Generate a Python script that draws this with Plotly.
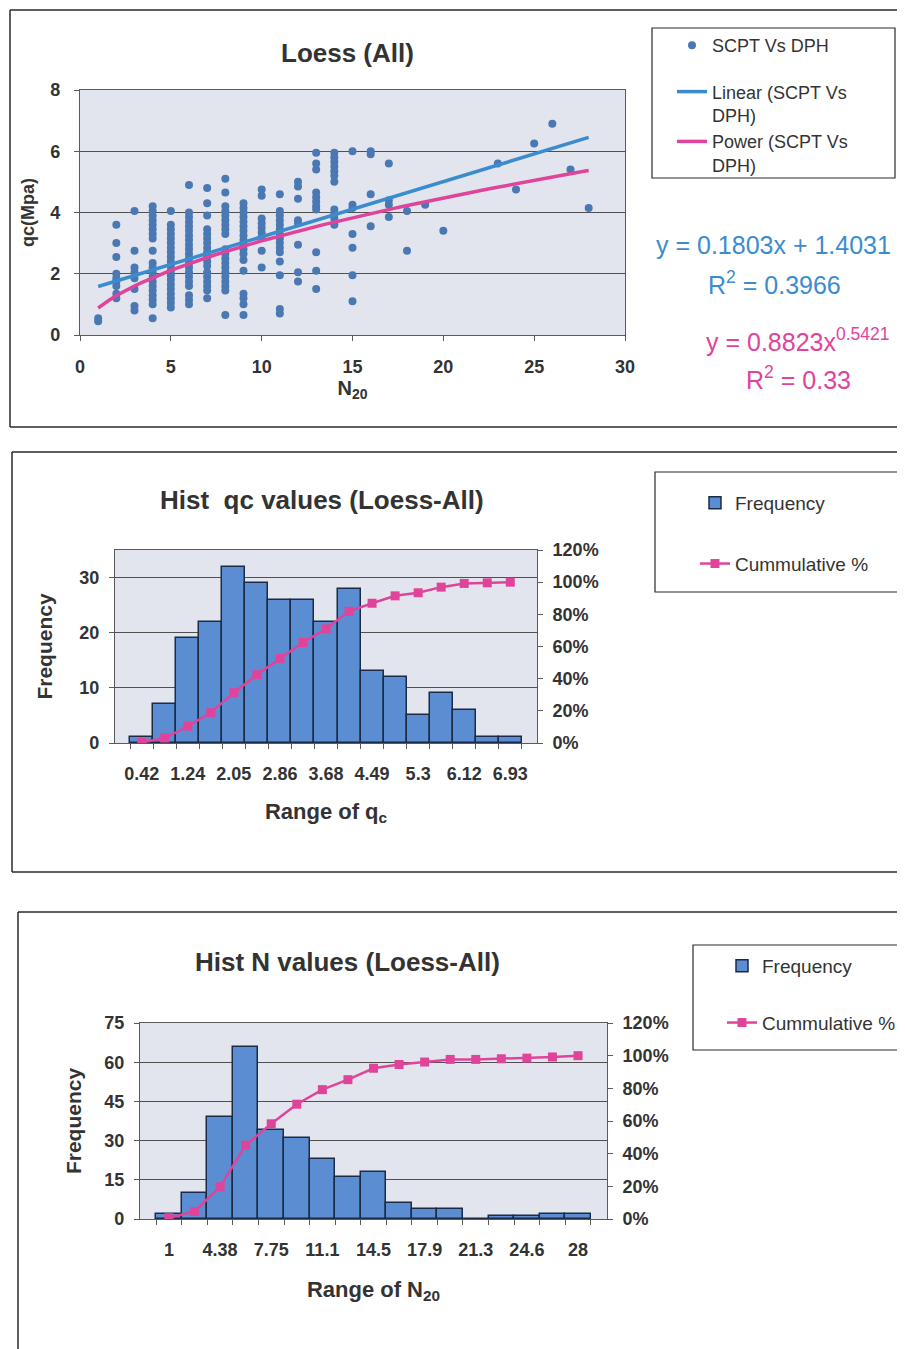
import numpy as np
import plotly.graph_objects as go

W, H = 905, 1349
OFF = 8  # default page body margin in the exported html

# ---------------- Scatter: qc vs N20 (values read per N column) ----------------
n_levels = [1, 2, 3, 4, 5, 6, 7, 8, 9, 10, 11, 12, 13, 14, 15, 16, 17, 18, 19, 20, 23, 24, 25, 26, 27, 28]
qc_n1 = [0.45, 0.55]
qc_n2 = [3.6, 3.0, 2.55, 2.0, 1.85, 1.75, 1.6, 1.35, 1.2]
qc_n3 = [4.05, 2.75, 2.2, 2.05, 1.85, 1.5, 0.95, 0.8]
qc_n4 = [4.2, 4.05, 3.9, 3.75, 3.6, 3.45, 3.3, 3.15, 2.75, 2.35, 2.2, 2.05, 1.9, 1.75, 1.6, 1.45, 1.3, 1.15, 1.0, 0.55]
qc_n5 = [4.05, 3.6, 3.45, 3.3, 3.15, 3.0, 2.85, 2.7, 2.55, 2.4, 2.25, 2.1, 1.95, 1.8, 1.65, 1.5, 1.35, 1.2, 1.05, 0.9]
qc_n6 = [4.9, 4.0, 3.85, 3.7, 3.55, 3.4, 3.25, 3.1, 2.95, 2.8, 2.65, 2.5, 2.35, 2.2, 2.05, 1.9, 1.75, 1.6, 1.3, 1.15, 1.0]
qc_n7 = [4.8, 4.3, 3.9, 3.45, 3.3, 3.15, 3.0, 2.85, 2.7, 2.55, 2.4, 2.25, 2.05, 1.9, 1.75, 1.6, 1.45, 1.2]
qc_n8 = [5.1, 4.65, 4.2, 4.05, 3.9, 3.75, 3.6, 3.45, 3.3, 2.8, 2.65, 2.5, 2.35, 2.2, 2.05, 1.9, 1.75, 1.6, 1.45, 0.65]
qc_n9 = [4.3, 4.15, 4.0, 3.85, 3.7, 3.55, 3.4, 3.25, 3.1, 2.95, 2.8, 2.65, 2.45, 2.1, 1.35, 1.2, 1.0, 0.65]
qc_n10 = [4.75, 4.55, 3.8, 3.65, 3.5, 3.35, 3.2, 2.75, 2.2]
qc_n11 = [4.6, 4.05, 3.9, 3.75, 3.6, 3.45, 3.3, 3.15, 3.0, 2.85, 2.7, 2.4, 1.95, 0.85, 0.7]
qc_n12 = [5.0, 4.85, 4.45, 3.75, 3.65, 2.95, 2.05, 1.75]
qc_n13 = [5.95, 5.6, 5.4, 4.65, 4.5, 4.35, 4.2, 4.1, 2.7, 2.1, 1.5]
qc_n14 = [5.95, 5.8, 5.65, 5.5, 5.35, 5.2, 5.0, 4.1, 3.95, 3.8, 3.6]
qc_n15 = [6.0, 4.25, 4.15, 3.3, 2.85, 1.95, 1.1]
qc_n16 = [6.0, 5.9, 4.6, 3.55]
qc_n17 = [5.6, 4.4, 4.25, 3.85]
qc_n18 = [4.05, 2.75]
qc_n19 = [4.25]
qc_n20 = [3.4]
qc_n23 = [5.6]
qc_n24 = [4.75]
qc_n25 = [6.25]
qc_n26 = [6.9]
qc_n27 = [5.4]
qc_n28 = [4.15]
qc_columns = [qc_n1, qc_n2, qc_n3, qc_n4, qc_n5, qc_n6, qc_n7, qc_n8, qc_n9, qc_n10,
              qc_n11, qc_n12, qc_n13, qc_n14, qc_n15, qc_n16, qc_n17, qc_n18, qc_n19,
              qc_n20, qc_n23, qc_n24, qc_n25, qc_n26, qc_n27, qc_n28]

scatter_x, scatter_y = [], []
for n, col in zip(n_levels, qc_columns):
    scatter_x += [n] * len(col)
    scatter_y += col

# trend line equations as printed on the chart
lin_slope, lin_intercept, lin_r2 = 0.1803, 1.4031, 0.3966
pow_coef, pow_exp, pow_r2 = 0.8823, 0.5421, 0.33
trend_x = np.linspace(1, 28, 80)
trend_lin = lin_slope * trend_x + lin_intercept
trend_pow = pow_coef * trend_x ** pow_exp

# ---------------- Histogram of qc ----------------
qc_bins = ["0.42", "0.83", "1.24", "1.64", "2.05", "2.45", "2.86", "3.27", "3.68",
           "4.08", "4.49", "4.90", "5.3", "5.71", "6.12", "6.52", "6.93"]
qc_tick_labels = ["0.42", "", "1.24", "", "2.05", "", "2.86", "", "3.68",
                  "", "4.49", "", "5.3", "", "6.12", "", "6.93"]
qc_freq = [1, 7, 19, 22, 32, 29, 26, 26, 22, 28, 13, 12, 5, 9, 6, 1, 1]
qc_cum = [0.004, 0.031, 0.104, 0.189, 0.313, 0.425, 0.525, 0.625, 0.710,
          0.819, 0.869, 0.915, 0.934, 0.969, 0.992, 0.996, 1.0]

# ---------------- Histogram of N20 ----------------
n_bins = ["1", "2.69", "4.38", "6.06", "7.75", "9.44", "11.1", "12.8", "14.5",
          "16.2", "17.9", "19.6", "21.3", "22.9", "24.6", "26.3", "28"]
n_tick_labels = ["1", "", "4.38", "", "7.75", "", "11.1", "", "14.5",
                 "", "17.9", "", "21.3", "", "24.6", "", "28"]
n_freq = [2, 10, 39, 66, 34, 31, 23, 16, 18, 6, 4, 4, 0, 1, 1, 2, 2]
n_cum = [0.008, 0.046, 0.197, 0.452, 0.583, 0.703, 0.792, 0.853, 0.923,
         0.946, 0.961, 0.977, 0.977, 0.981, 0.985, 0.992, 1.0]

# ---------------- styling ----------------
FONT = "Liberation Sans"
DOT = "#4a78b3"
BLUE = "#3b8ccf"
PINK = "#e0449a"
BAR = "#5b8dd3"
BAR_EDGE = "#1d2a47"
GRID = "#505050"
AXIS = "#5a5a5a"
PLOTBG = "#e3e5ee"
TXT = "#333333"


def px(x):
    return (x - OFF) / W


def py(y):
    return 1 - (y - OFF) / H


fig = go.Figure()

# scatter panel
fig.add_trace(go.Scatter(x=scatter_x, y=scatter_y, mode="markers", name="SCPT Vs DPH",
                         marker=dict(size=8, color=DOT), xaxis="x", yaxis="y",
                         legend="legend", legendgroup="pts"))
fig.add_trace(go.Scatter(x=trend_x, y=trend_lin, mode="lines", name="Linear (SCPT Vs<br>DPH)",
                         line=dict(color=BLUE, width=3.5), xaxis="x", yaxis="y",
                         legend="legend", legendgroup="fits"))
fig.add_trace(go.Scatter(x=trend_x, y=trend_pow, mode="lines", name="Power (SCPT Vs<br>DPH)",
                         line=dict(color=PINK, width=3.5), xaxis="x", yaxis="y",
                         legend="legend", legendgroup="fits"))

# qc histogram
fig.add_trace(go.Bar(x=qc_bins, y=qc_freq, name="Frequency", xaxis="x2", yaxis="y2",
                     marker=dict(color=BAR, line=dict(color=BAR_EDGE, width=1.5)),
                     legend="legend2", legendgroup="f2"))
fig.add_trace(go.Scatter(x=qc_bins, y=qc_cum, name="Cummulative %", mode="lines+markers",
                         xaxis="x2", yaxis="y3",
                         line=dict(color=PINK, width=2.5),
                         marker=dict(symbol="square", size=9, color=PINK),
                         legend="legend2", legendgroup="c2"))

# N histogram
fig.add_trace(go.Bar(x=n_bins, y=n_freq, name="Frequency", xaxis="x3", yaxis="y4",
                     marker=dict(color=BAR, line=dict(color=BAR_EDGE, width=1.5)),
                     legend="legend3", legendgroup="f3"))
fig.add_trace(go.Scatter(x=n_bins, y=n_cum, name="Cummulative %", mode="lines+markers",
                         xaxis="x3", yaxis="y5",
                         line=dict(color=PINK, width=2.5),
                         marker=dict(symbol="square", size=9, color=PINK),
                         legend="legend3", legendgroup="c3"))

tickfont = dict(family=FONT, size=18, color=TXT, weight="bold")
axis_common = dict(showline=True, linecolor=AXIS, linewidth=1.2, mirror=True,
                   ticks="outside", ticklen=5, tickcolor=AXIS, zeroline=False,
                   tickfont=tickfont, automargin=False)

layout = dict(
    width=W, height=H, margin=dict(l=0, r=0, t=0, b=0, autoexpand=False),
    paper_bgcolor="white", plot_bgcolor=PLOTBG, bargap=0,
    font=dict(family=FONT, color=TXT),
    xaxis=dict(domain=[px(80), px(625)], anchor="y", range=[0, 30], dtick=5,
               showgrid=False, ticklabelstandoff=10, tickangle=0,
               title=dict(text="<b>N<sub>20</sub></b>", font=dict(family=FONT, size=20, color=TXT),
                          standoff=4),
               **axis_common),
    yaxis=dict(domain=[py(335), py(90)], anchor="x", range=[0, 8], dtick=2,
               showgrid=True, gridcolor=GRID, gridwidth=1.2, ticklabelstandoff=10,
               title=dict(text="<b>qc(Mpa)</b>", font=dict(family=FONT, size=18, color=TXT),
                          standoff=10),
               **axis_common),
    xaxis2=dict(domain=[px(115), px(537)], anchor="y2", type="category",
                categoryorder="array", categoryarray=qc_bins,
                tickmode="array", tickvals=qc_bins, ticktext=qc_tick_labels,
                tickson="boundaries", showgrid=False, ticklabelstandoff=14, tickangle=0,
                title=dict(text="<b>Range of q<sub>c</sub></b>", font=dict(family=FONT, size=22, color=TXT),
                           standoff=20),
                **axis_common),
    yaxis2=dict(domain=[py(743), py(550)], anchor="x2", range=[0, 35],
                tickmode="array", tickvals=[0, 10, 20, 30],
                showgrid=True, gridcolor=GRID, gridwidth=1.2, ticklabelstandoff=6,
                title=dict(text="<b>Frequency</b>", font=dict(family=FONT, size=21, color=TXT),
                           standoff=20),
                **axis_common),
    yaxis3=dict(overlaying="y2", anchor="x2", side="right", range=[0, 1.2], dtick=0.2,
                tickformat=".0%", showgrid=False, showline=False, zeroline=False,
                ticks="outside", ticklen=5, tickcolor=AXIS, tickfont=tickfont,
                ticklabelstandoff=6, automargin=False),
    xaxis3=dict(domain=[px(140), px(607)], anchor="y4", type="category",
                categoryorder="array", categoryarray=n_bins,
                tickmode="array", tickvals=n_bins, ticktext=n_tick_labels,
                tickson="boundaries", showgrid=False, ticklabelstandoff=14, tickangle=0,
                title=dict(text="<b>Range of N<sub>20</sub></b>", font=dict(family=FONT, size=22, color=TXT),
                           standoff=22),
                **axis_common),
    yaxis4=dict(domain=[py(1219), py(1023)], anchor="x3", range=[0, 75], dtick=15,
                showgrid=True, gridcolor=GRID, gridwidth=1.2, ticklabelstandoff=6,
                title=dict(text="<b>Frequency</b>", font=dict(family=FONT, size=21, color=TXT),
                           standoff=16),
                **axis_common),
    yaxis5=dict(overlaying="y4", anchor="x3", side="right", range=[0, 1.2], dtick=0.2,
                tickformat=".0%", showgrid=False, showline=False, zeroline=False,
                ticks="outside", ticklen=5, tickcolor=AXIS, tickfont=tickfont,
                ticklabelstandoff=6, automargin=False),
    legend=dict(x=px(672), y=py(27), xanchor="left", yanchor="top",
                bgcolor="rgba(0,0,0,0)", borderwidth=0, tracegroupgap=20, valign="top",
                font=dict(family=FONT, size=18, color=TXT)),
    legend2=dict(x=px(695), y=py(484), xanchor="left", yanchor="top",
                 bgcolor="rgba(0,0,0,0)", borderwidth=0, tracegroupgap=33,
                 font=dict(family=FONT, size=19, color=TXT)),
    legend3=dict(x=px(722), y=py(947), xanchor="left", yanchor="top",
                 bgcolor="rgba(0,0,0,0)", borderwidth=0, tracegroupgap=29,
                 font=dict(family=FONT, size=19, color=TXT)),
)
fig.update_layout(**layout)

# chart titles and equations
ann = [
    dict(text="<b>Loess (All)</b>", x=px(347), y=py(53), size=26, color=TXT),
    dict(text="<b>Hist\u00a0 qc values (Loess-All)</b>", x=px(322), y=py(500), size=26, color=TXT),
    dict(text="<b>Hist N values (Loess-All)</b>", x=px(347), y=py(962), size=26, color=TXT),
    dict(text=f"y = {lin_slope}x + {lin_intercept}", x=px(773), y=py(245), size=25, color=BLUE),
    dict(text=f"R<sup>2</sup> = {lin_r2}", x=px(774), y=py(283), size=25, color=BLUE),
    dict(text=f"y = {pow_coef}x<sup>{pow_exp}</sup>", x=px(798), y=py(340), size=25, color=PINK),
    dict(text=f"R<sup>2</sup> = {pow_r2}", x=px(798), y=py(378), size=25, color=PINK),
]
for a in ann:
    fig.add_annotation(text=a["text"], x=a["x"], y=a["y"], xref="paper", yref="paper",
                       showarrow=False, xanchor="center", yanchor="middle",
                       font=dict(family=FONT, size=a["size"], color=a["color"]))

# panel frames and legend boxes
frame = dict(color="#2a2a2a", width=1.5)
shapes = []
for (x0, top, bottom) in [(10, 10, 427), (12, 452, 872), (18, 912, None)]:
    shapes.append(dict(type="line", xref="paper", yref="paper", x0=px(x0), x1=1.0,
                       y0=py(top), y1=py(top), line=frame))
    yb = py(bottom) if bottom is not None else 0.0
    shapes.append(dict(type="line", xref="paper", yref="paper", x0=px(x0), x1=px(x0),
                       y0=py(top), y1=yb, line=frame))
    if bottom is not None:
        shapes.append(dict(type="line", xref="paper", yref="paper", x0=px(x0), x1=1.0,
                           y0=py(bottom), y1=py(bottom), line=frame))
box = dict(color="#2a2a2a", width=1.2)
for (x0, y0, x1, y1) in [(652, 28, 895, 178), (655, 472, 903, 592), (693, 945, 912, 1050)]:
    shapes.append(dict(type="rect", xref="paper", yref="paper", x0=px(x0), x1=px(x1),
                       y0=py(y1), y1=py(y0), line=box, fillcolor="rgba(0,0,0,0)"))
fig.update_layout(shapes=shapes)

fig.write_html("out.html")
